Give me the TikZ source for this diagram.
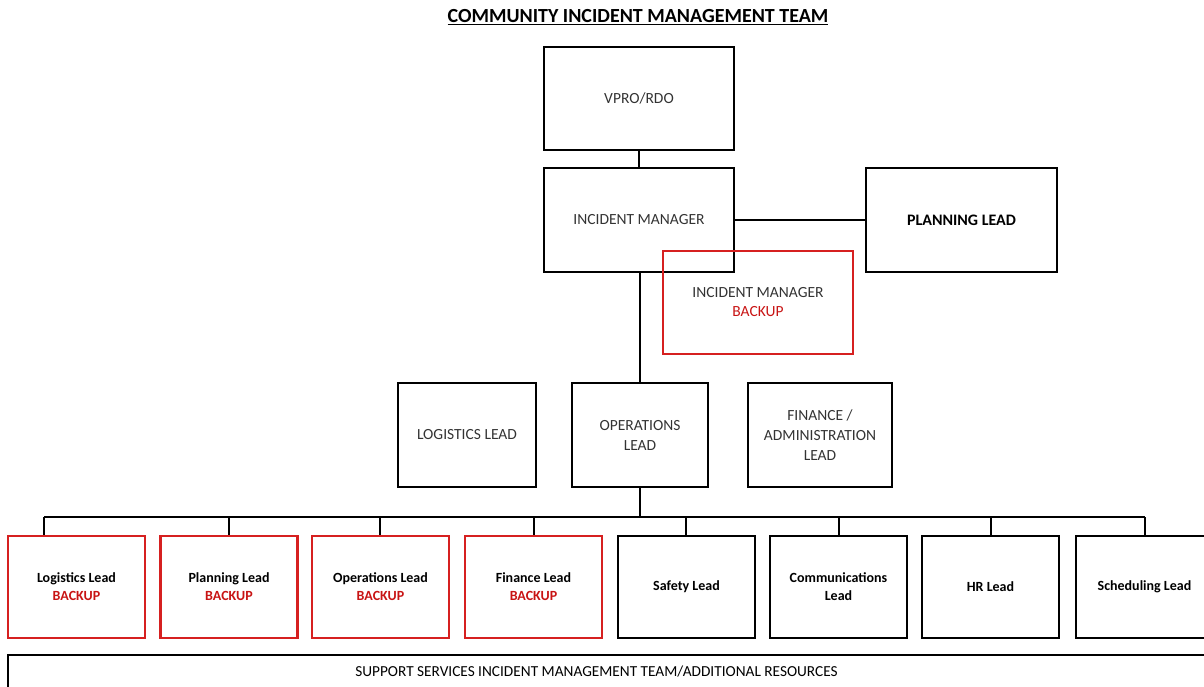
\documentclass[tikz,border=0pt]{standalone}
\usepackage{fontspec}
\setmainfont{Carlito}
\definecolor{bred}{RGB}{214,32,32}
\definecolor{tred}{RGB}{200,20,20}
\begin{document}
\begin{tikzpicture}[x=1pt,y=-1pt,
  topbox/.style={draw, line width=2.2pt, inner sep=0pt, align=center,
    text=black!80, font=\fontsize{15.5}{20}\selectfont},
  redtop/.style={topbox, draw=bred, line width=2pt},
  lowbox/.style={draw, line width=2.8pt, inner sep=0pt, align=center,
    minimum width=137pt, minimum height=102pt,
    font=\bfseries\fontsize{14}{19}\selectfont},
  redlow/.style={lowbox, draw=bred, line width=2.4pt},
  conn/.style={line width=2pt}]
\useasboundingbox (0,0) rectangle (1204,686);
% title
\node (title) at (638,17) {\bfseries\fontsize{20}{24}\selectfont\underline{COMMUNITY INCIDENT MANAGEMENT TEAM}};
% top level
\node[topbox, minimum width=190pt, minimum height=103pt] (vpro) at (639,98.5) {VPRO/RDO};
\node[topbox, minimum width=190pt, minimum height=104pt] (im) at (639,220) {INCIDENT MANAGER};
\node[topbox, minimum width=191pt, minimum height=104pt, text=black, font=\bfseries\fontsize{16}{19}\selectfont] (pl) at (961.5,220) {PLANNING LEAD};
\node[redtop, minimum width=190pt, minimum height=103pt] (imb) at (758,302.5) {INCIDENT MANAGER\\[-1pt]{\color{tred}BACKUP}};
% middle level
\node[topbox, minimum width=138pt, minimum height=104pt] (log) at (467,435) {LOGISTICS LEAD};
\node[topbox, minimum width=136pt, minimum height=104pt] (ops) at (640,435) {OPERATIONS\\LEAD};
\node[topbox, minimum width=144pt, minimum height=104pt] (fin) at (820,435) {FINANCE /\\ADMINISTRATION\\LEAD};
% bottom level
\node[redlow] (b1) at (76.5,587) {Logistics Lead\\[-1pt]{\color{tred}BACKUP}};
\node[redlow] (b2) at (229,587) {Planning Lead\\[-1pt]{\color{tred}BACKUP}};
\node[redlow] (b3) at (380.5,587) {Operations Lead\\[-1pt]{\color{tred}BACKUP}};
\node[redlow] (b4) at (533.5,587) {Finance Lead\\[-1pt]{\color{tred}BACKUP}};
\node[lowbox] (b5) at (686.5,587) {Safety Lead};
\node[lowbox] (b6) at (838.5,587) {Communications\\[-1pt]Lead};
\node[lowbox] (b7) at (990.5,587) {HR Lead};
\node[lowbox] (b8) at (1144.5,587) {Scheduling Lead};
% support bar
\draw[line width=2pt] (8,655) rectangle (1230,710);
\node[font=\fontsize{15.3}{18}\selectfont] (sup) at (596.5,672) {SUPPORT SERVICES INCIDENT MANAGEMENT TEAM/ADDITIONAL RESOURCES};
% connectors
\draw[conn] (vpro.south) -- (im.north);
\draw[line width=1.6pt] (im.east) -- (pl.west);
\draw[conn] (im.south -| ops.north) -- (ops.north);
\coordinate (busL) at (44,517);
\coordinate (busR) at (1145,517);
\draw[conn] (busL) -- (busR);
\coordinate (busO) at (ops.south |- busL);
\draw[conn] (ops.south) -- (busO);
\coordinate (d1) at (44,517);
\coordinate (d2) at (229,517);
\coordinate (d3) at (380,517);
\coordinate (d4) at (534,517);
\coordinate (d5) at (686,517);
\coordinate (d6) at (839,517);
\coordinate (d7) at (991,517);
\coordinate (d8) at (1145,517);
\foreach \i in {1,...,8} {\draw[conn] (d\i) -- (d\i |- b\i.north);}
\end{tikzpicture}
\end{document}
